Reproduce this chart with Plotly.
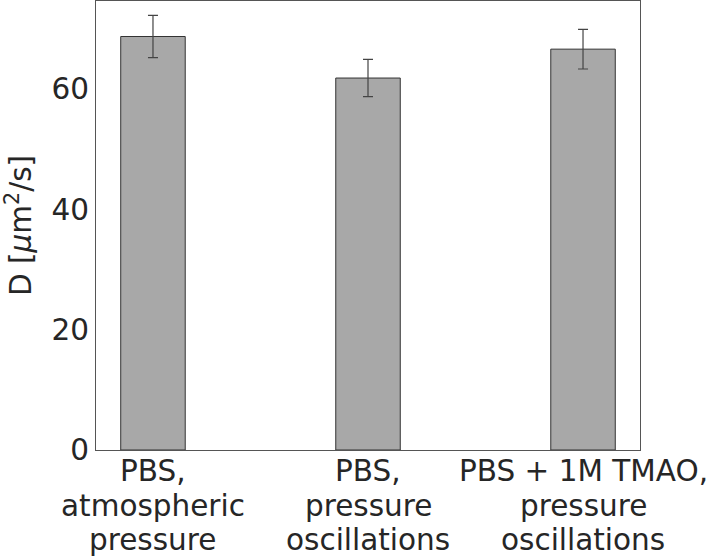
import plotly.graph_objects as go

categories = [
    ["PBS,", "atmospheric", "pressure"],
    ["PBS,", "pressure", "oscillations"],
    ["PBS + 1M TMAO,", "pressure", "oscillations"],
]
values = [68.7, 61.8, 66.6]
errors = [3.5, 3.1, 3.3]
y_ticks = [0, 20, 40, 60]

FONT = "DejaVu Sans"
SIZE = 29.5

fig = go.Figure()
fig.add_trace(go.Bar(
    x=list(range(len(values))), y=values, width=0.3,
    marker=dict(color="#a8a8a8", line=dict(color="#333333", width=1)),
    error_y=dict(type="data", array=errors, visible=True, color="#444444", thickness=1.2, width=5),
    hoverinfo="skip",
))

annotations = []
for i, lines in enumerate(categories):
    for j, line in enumerate(lines):
        annotations.append(dict(
            x=i, xref="x", y=0, yref="paper", text=line, showarrow=False,
            xanchor="center", yanchor="middle", yshift=-(21 + 34.5 * j),
            font=dict(family=FONT, size=SIZE, color="#262626"),
        ))

fig.update_layout(
    width=708, height=557,
    margin=dict(l=96, r=68, t=1, b=107),
    paper_bgcolor="white", plot_bgcolor="white",
    font=dict(family=FONT, size=SIZE, color="#262626"),
    showlegend=False,
    annotations=annotations,
)
fig.update_xaxes(
    range=[-0.265, 2.265], tickvals=[0, 1, 2], showticklabels=False, automargin=False,
    showgrid=False, zeroline=False, showline=True, mirror=True, linecolor="#555555", linewidth=1,
    ticks="",
)
fig.update_yaxes(
    range=[0, 74.6], tickvals=y_ticks, automargin=False,
    showgrid=False, zeroline=False, showline=True, mirror=True, linecolor="#555555", linewidth=1,
    ticks="", tickfont=dict(size=SIZE), ticklabelstandoff=0,
    title=dict(text="D [<i>μ</i>m<sup>2</sup>/s]", font=dict(size=SIZE), standoff=14),
)
fig.write_html(
    "out.html",
    config={"displayModeBar": False},
    post_script="document.body.style.margin='0px';document.body.style.overflow='hidden';",
)
